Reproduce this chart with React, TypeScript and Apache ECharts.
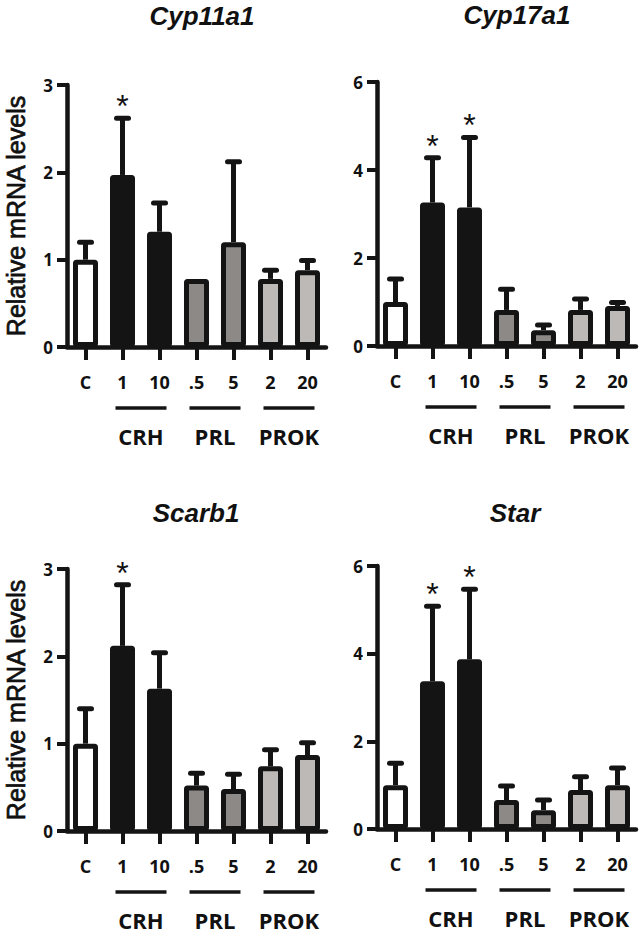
import React, { useEffect, useRef } from 'react';
import * as echarts from 'echarts';

// ---- data ----
const categories = ['C', '1', '10', '.5', '5', '2', '20'];
const barFills = ['#ffffff', '#141414', '#141414', '#8c8986', '#8c8986', '#bdb9b6', '#bdb9b6'];
const groupNames = ['CRH', 'PRL', 'PROK'];
const groupSpans = [[1, 2], [3, 4], [5, 6]];

const panelTitles = ['Cyp11a1', 'Cyp17a1', 'Scarb1', 'Star'];
const yAxisTitle = 'Relative mRNA levels';

const cyp11a1Mean = [1.0, 1.97, 1.32, 0.78, 1.2, 0.78, 0.88];
const cyp11a1Upper = [1.2, 2.62, 1.65, 0.78, 2.12, 0.88, 0.99];
const cyp11a1Sig = [0, 1, 0, 0, 0, 0, 0];

const cyp17a1Mean = [1.0, 3.26, 3.15, 0.82, 0.36, 0.82, 0.91];
const cyp17a1Upper = [1.52, 4.28, 4.74, 1.29, 0.48, 1.07, 0.99];
const cyp17a1Sig = [0, 1, 1, 0, 0, 0, 0];

const scarb1Mean = [1.0, 2.12, 1.63, 0.52, 0.48, 0.74, 0.87];
const scarb1Upper = [1.4, 2.82, 2.04, 0.66, 0.65, 0.93, 1.01];
const scarb1Sig = [0, 1, 0, 0, 0, 0, 0];

const starMean = [1.0, 3.37, 3.87, 0.66, 0.43, 0.89, 1.0];
const starUpper = [1.5, 5.08, 5.47, 0.98, 0.66, 1.19, 1.39];
const starSig = [0, 1, 1, 0, 0, 0, 0];

const yMax = [3, 6, 3, 6];
const yInterval = [1, 2, 1, 2];

// ---- layout ----
const grids = [
  { left: 67, top: 85, width: 259, height: 262 },
  { left: 377, top: 82, width: 259, height: 264 },
  { left: 67, top: 569, width: 259, height: 262 },
  { left: 377, top: 566, width: 259, height: 263 },
];
const titlePos = [
  [202, 16],
  [517, 15],
  [196, 513],
  [515, 513],
];

const INK = '#141414';

function buildOption() {
  const means = [cyp11a1Mean, cyp17a1Mean, scarb1Mean, starMean];
  const uppers = [cyp11a1Upper, cyp17a1Upper, scarb1Upper, starUpper];
  const sigs = [cyp11a1Sig, cyp17a1Sig, scarb1Sig, starSig];

  const xAxis: any[] = [];
  const yAxis: any[] = [];
  const series: any[] = [];
  const graphic: any[] = [];

  for (let p = 0; p < 4; p++) {
    xAxis.push({
      type: 'category',
      gridIndex: p,
      data: categories,
      axisLine: { show: true, lineStyle: { color: INK, width: 4.5 } },
      axisTick: { show: true, alignWithLabel: true, length: 13, lineStyle: { color: INK, width: 4 } },
      axisLabel: {
        margin: 26,
        fontFamily: 'Open Sans',
        fontWeight: 'bold',
        fontSize: 18,
        color: '#111',
      },
    });
    yAxis.push({
      type: 'value',
      gridIndex: p,
      min: 0,
      max: yMax[p],
      interval: yInterval[p],
      splitLine: { show: false },
      axisLine: { show: true, lineStyle: { color: INK, width: 4.5 } },
      axisTick: { show: true, length: 10, lineStyle: { color: INK, width: 4 } },
      axisLabel: {
        margin: 14,
        fontFamily: 'Open Sans',
        fontWeight: 'bold',
        fontSize: 17,
        color: '#111',
      },
      name: p % 2 === 0 ? yAxisTitle : '',
      nameLocation: 'middle',
      nameGap: 39,
      nameTextStyle: {
        fontFamily: 'Liberation Sans',
        fontSize: 25,
        color: '#111',
        textBorderColor: '#111',
        textBorderWidth: 0.7,
      },
    });

    series.push({
      type: 'bar',
      xAxisIndex: p,
      yAxisIndex: p,
      barWidth: 25,
      z: 3,
      itemStyle: { borderColor: INK, borderWidth: 5, borderRadius: 1 },
      data: means[p].map((v, i) => ({ value: v, itemStyle: { color: barFills[i] } })),
    });

    series.push({
      type: 'custom',
      xAxisIndex: p,
      yAxisIndex: p,
      z: 2,
      clip: false,
      data: means[p].map((m, i) => [i, m, uppers[p][i], sigs[p][i]]),
      renderItem: (params: any, api: any) => {
        const x = api.value(0);
        const m = api.value(1);
        const u = api.value(2);
        const s = api.value(3);
        const base = api.coord([x, m]);
        const top = api.coord([x, u]);
        const children: any[] = [];
        if (u - m > 0.015) {
          children.push({
            type: 'line',
            shape: { x1: base[0], y1: base[1], x2: top[0], y2: top[1] },
            style: { stroke: INK, lineWidth: 5 },
          });
          children.push({
            type: 'line',
            shape: { x1: top[0] - 6, y1: top[1], x2: top[0] + 6, y2: top[1] },
            style: { stroke: INK, lineWidth: 5, lineCap: 'round' },
          });
        }
        if (s) {
          children.push({
            type: 'text',
            x: top[0],
            y: top[1] - 12,
            style: {
              text: '*',
              fill: '#111',
              fontFamily: 'Liberation Sans',
              fontSize: 32,
              align: 'center',
              verticalAlign: 'middle',
            },
          });
        }
        return { type: 'group', children };
      },
    });

    series.push({
      type: 'custom',
      xAxisIndex: p,
      yAxisIndex: p,
      z: 2,
      clip: false,
      data: groupSpans.map((g) => [g[0], g[1]]),
      renderItem: (params: any, api: any) => {
        const a = api.coord([api.value(0), 0]);
        const b = api.coord([api.value(1), 0]);
        const y0 = a[1];
        const x1 = a[0] - 7;
        const x2 = b[0] + 7;
        return {
          type: 'group',
          children: [
            {
              type: 'line',
              shape: { x1, y1: y0 + 61, x2, y2: y0 + 61 },
              style: { stroke: INK, lineWidth: 3.3 },
            },
            {
              type: 'text',
              x: (x1 + x2) / 2,
              y: y0 + 89,
              style: {
                text: groupNames[params.dataIndex],
                fill: '#111',
                fontFamily: 'Open Sans',
                fontWeight: 'bold',
                fontSize: 22,
                align: 'center',
                verticalAlign: 'middle',
              },
            },
          ],
        };
      },
    });

    graphic.push({
      type: 'text',
      x: titlePos[p][0],
      y: titlePos[p][1],
      style: {
        text: panelTitles[p],
        fill: '#111',
        fontFamily: 'Liberation Sans',
        fontWeight: 'bold',
        fontStyle: 'italic',
        fontSize: 26,
        align: 'center',
        verticalAlign: 'middle',
      },
    });
  }

  return {
    animation: false,
    backgroundColor: '#ffffff',
    grid: grids.map((g) => ({ ...g, containLabel: false })),
    xAxis,
    yAxis,
    series,
    graphic,
  };
}

export default function App() {
  const ref = useRef<HTMLDivElement>(null);
  useEffect(() => {
    if (!ref.current) return;
    const chart = echarts.init(ref.current, null, { renderer: 'svg' });
    chart.setOption(buildOption() as any);
    return () => chart.dispose();
  }, []);
  return (
    <div
      ref={ref}
      style={{ position: 'absolute', left: 0, top: 0, width: 643, height: 937, background: '#fff' }}
    />
  );
}
